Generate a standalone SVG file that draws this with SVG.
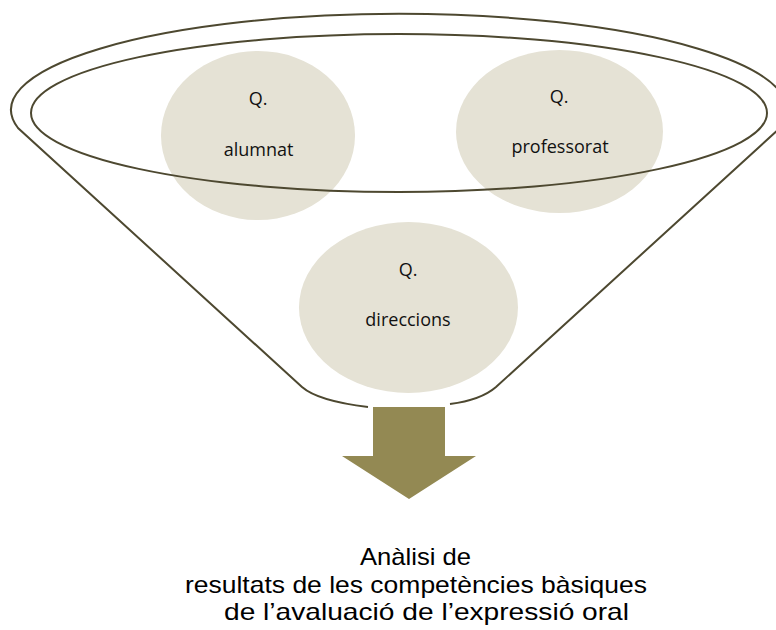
<svg xmlns="http://www.w3.org/2000/svg" width="776" height="630" viewBox="0 0 776 630">
<style>
.q{fill:#E5E2D5}
.lbl{font-family:"Open Sans","Liberation Sans",sans-serif;font-size:18px;fill:#111;text-anchor:middle}
.ln{fill:none;stroke:#4D4830;stroke-width:2}
.out{font-family:"Liberation Sans",Arial,sans-serif;font-size:24px;fill:#000;text-anchor:middle}
</style>
<rect width="776" height="630" fill="#fff"/>
<g id="alumnat">
<ellipse class="q" cx="258" cy="135.5" rx="97" ry="84.5"/>
<text class="lbl" x="258" y="105">Q.</text>
<text class="lbl" x="258.5" y="156">alumnat</text>
</g>
<g id="professorat">
<ellipse class="q" cx="559.5" cy="131.5" rx="103.5" ry="81.5"/>
<text class="lbl" x="559" y="103">Q.</text>
<text class="lbl" x="560" y="153">professorat</text>
</g>
<g id="direccions">
<ellipse class="q" cx="408.5" cy="307.5" rx="109.5" ry="85.5"/>
<text class="lbl" x="408" y="276">Q.</text>
<text class="lbl" x="408" y="326">direccions</text>
</g>
<g id="funnel">
<ellipse class="ln" cx="399" cy="113" rx="368" ry="79"/>
<path class="ln" d="M 368,407 Q 318,401 302,387 L 18,128 A 388 96 0 1 1 780,128 L 496,387 Q 481,400 450,404"/>
</g>
<g id="arrow">
<polygon points="373,407 445,407 445,456 476,456 409,499 342,456 373,456" fill="#938953"/>
</g>
<g id="result">
<text class="out" x="415.5" y="565" textLength="111" lengthAdjust="spacingAndGlyphs">Anàlisi de</text>
<text class="out" x="416" y="592.5" textLength="462" lengthAdjust="spacingAndGlyphs">resultats de les competències bàsiques</text>
<text class="out" x="426.5" y="620" textLength="405" lengthAdjust="spacingAndGlyphs">de l’avaluació de l’expressió oral</text>
</g>
</svg>
